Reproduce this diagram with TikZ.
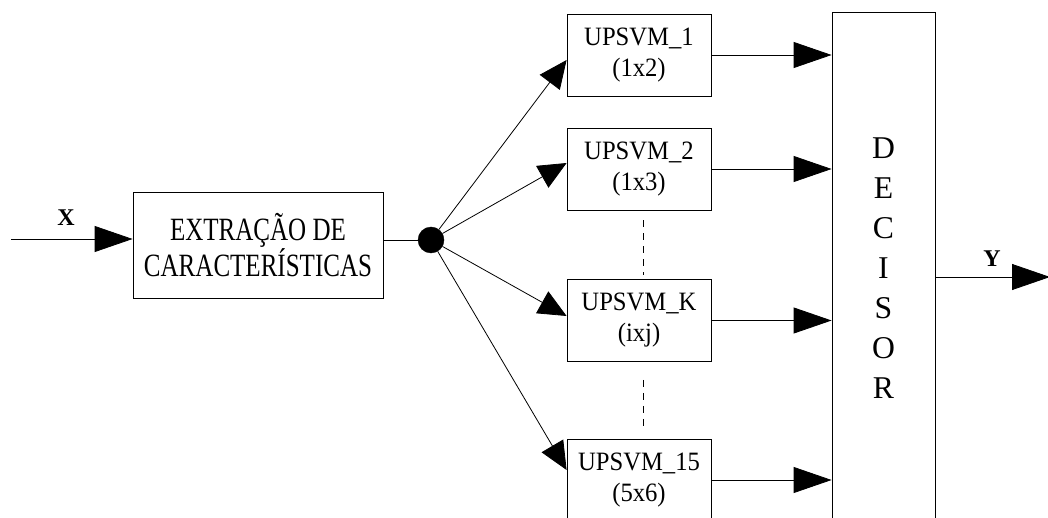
\documentclass[tikz,border=0pt]{standalone}
\usepackage{fontspec}
\setmainfont{Liberation Serif}
\newfontfamily\extfont[FakeStretch=0.77]{Liberation Serif}
\newfontfamily\boxfont[FakeStretch=0.93]{Liberation Serif}
\usetikzlibrary{arrows.meta,calc}
\tikzset{
  blk/.style={draw=black, line width=0.8pt, fill=white, rectangle, inner sep=0pt, align=center},
  upsvm/.style={blk, minimum width=144pt, minimum height=82pt, font=\boxfont\fontsize{26.5}{31}\selectfont},
  conn/.style={line width=0.8pt},
  bigarr/.style={conn, -{Triangle[length=38pt,width=26pt]}},
  fanarr/.style={conn, -{Triangle[length=28pt,width=25pt]}},
  dots/.style={conn, dash pattern=on 7pt off 6pt},
  lbl/.style={font=\bfseries\fontsize{24}{28}\selectfont, inner sep=0pt}
}
\begin{document}
\begin{tikzpicture}[x=1pt,y=-1pt]
\useasboundingbox (0,0) rectangle (1048,518);
% nodes
\node[blk, minimum width=250pt, minimum height=106pt, font=\extfont\fontsize{32.5}{33}\selectfont] (ext) at (258,245) {EXTRAÇÃO DE\\CARACTERÍSTICAS};
\node[circle, fill=black, draw=black, minimum size=26pt, inner sep=0pt] (dot) at (431,240) {};
\node[upsvm] (b1) at (639,55) {UPSVM\_1\\(1x2)};
\node[upsvm] (b2) at (639,169) {UPSVM\_2\\(1x3)};
\node[upsvm] (bk) at (639,320.5) {UPSVM\_K\\(ixj)};
\node[upsvm] (b15) at (639,480) {UPSVM\_15\\(5x6)};
\node[blk, minimum width=103pt, minimum height=513pt, font=\fontsize{31.7}{40}\selectfont] (dec) at (883.5,268.5) {D\\E\\C\\I\\S\\O\\R};
\coordinate (in) at (11,239);
\coordinate (out) at (1050,277);
\node[lbl] (xl) at (66,218) {X};
\node[lbl] (yl) at (992,259) {Y};
% connectors
\draw[bigarr] (in) -- (ext.west |- in);
\draw[conn] (ext.east |- dot) -- (dot);
\draw[fanarr] (dot) -- ($(b1.west)+(0,5)$);
\draw[fanarr] (dot) -- ($(b2.west)+(0,-6)$);
\draw[fanarr] (dot) -- ($(bk.west)+(0,-4.5)$);
\draw[fanarr] (dot) -- ($(b15.west)+(0,-10)$);
\draw[bigarr] (b1.east) -- (b1.east -| dec.west);
\draw[bigarr] (b2.east) -- (b2.east -| dec.west);
\draw[bigarr] (bk.east) -- (bk.east -| dec.west);
\draw[bigarr] (b15.east) -- (b15.east -| dec.west);
\draw[bigarr] (dec.east |- out) -- (out);
\draw[dots] ($(b2.south)+(4,10)$) -- ($(bk.north)+(4,-4)$);
\draw[dots] ($(bk.south)+(4,18)$) -- ($(b15.north)+(4,-10)$);
\end{tikzpicture}
\end{document}
